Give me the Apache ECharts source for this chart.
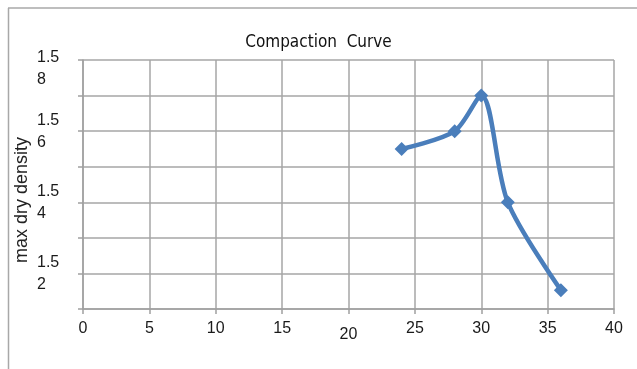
<!DOCTYPE html>
<html>
<head>
<meta charset="utf-8">
<script src="https://cdn.jsdelivr.net/npm/echarts@6/dist/echarts.min.js"></script>
<style>
  html, body { margin: 0; padding: 0; background: #fff; }
  #chart { width: 637px; height: 369px; }
</style>
</head>
<body>
<div id="chart"></div>
<script>
// Moisture content (%) against maximum dry density
const moisture = [24, 28, 30, 32, 36];
const dryDensity = [1.555, 1.56, 1.57, 1.54, 1.5153];

const xTicks = [0, 5, 10, 15, 20, 25, 30, 35, 40];
const yLabelled = [1.52, 1.54, 1.56, 1.58];

const chart = echarts.init(document.getElementById('chart'));

const labelFont = 'Liberation Sans, Arial, sans-serif';

chart.setOption({
  animation: false,
  backgroundColor: '#fff',
  title: {
    text: 'Compaction  Curve',
    left: 'center',
    top: 29,
    textStyle: {
      fontFamily: 'DejaVu Sans Condensed, DejaVu Sans, sans-serif',
      fontSize: 17,
      fontWeight: 'normal',
      color: '#111'
    }
  },
  graphic: [
    { type: 'line', shape: { x1: 8, y1: 8, x2: 637, y2: 8 }, style: { stroke: '#a8a8a8', lineWidth: 1.5 } },
    { type: 'line', shape: { x1: 8.5, y1: 8, x2: 8.5, y2: 369 }, style: { stroke: '#a8a8a8', lineWidth: 1.5 } }
  ],
  grid: { left: 83, right: 23, top: 60, bottom: 60, containLabel: false },
  xAxis: {
    type: 'value',
    min: 0,
    max: 40,
    interval: 5,
    axisLine: { show: true, lineStyle: { color: '#a0a0a0', width: 1.5 } },
    axisTick: { show: true, length: 5, lineStyle: { color: '#a0a0a0', width: 1.5 } },
    splitLine: { show: true, lineStyle: { color: '#a6a6a6', width: 1.5 } },
    axisLabel: {
      margin: 12,
      fontFamily: labelFont,
      fontSize: 16,
      color: '#1a1a1a',
      formatter: function (v) {
        const t = xTicks.find(function (k) { return Math.abs(k - v) < 1e-9; });
        if (t === undefined) return '';
        return t === 20 ? '{low|' + t + '}' : String(t);
      },
      rich: {
        low: { padding: [6, 0, 0, 0], fontFamily: labelFont, fontSize: 16, color: '#1a1a1a' }
      }
    }
  },
  yAxis: {
    type: 'value',
    name: 'max dry density',
    nameLocation: 'middle',
    nameGap: 52,
    nameMoveOverlap: false,
    nameTextStyle: { fontFamily: labelFont, fontSize: 18, color: '#222', padding: [0, 31, 0, 0] },
    min: 1.51,
    max: 1.58,
    interval: 0.01,
    axisLine: { show: true, lineStyle: { color: '#a0a0a0', width: 1.5 } },
    axisTick: { show: true, length: 5, lineStyle: { color: '#a0a0a0', width: 1.5 } },
    splitLine: { show: true, lineStyle: { color: '#a6a6a6', width: 1.5 } },
    axisLabel: {
      margin: 46,
      align: 'left',
      fontFamily: labelFont,
      fontSize: 16,
      lineHeight: 22,
      color: '#1a1a1a',
      formatter: function (v) {
        const hit = yLabelled.find(function (k) { return Math.abs(k - v) < 1e-6; });
        if (hit === undefined) return '';
        const s = hit.toFixed(2);
        const txt = s.slice(0, 3) + '\n' + s.slice(3);
        return Math.abs(hit - 1.58) < 1e-6 ? '{top|' + txt + '}' : txt;
      },
      rich: {
        top: { padding: [18, 0, 0, 0], fontFamily: labelFont, fontSize: 16, lineHeight: 22, color: '#1a1a1a', align: 'left' }
      }
    }
  },
  series: [{
    type: 'line',
    data: moisture.map(function (m, i) { return [m, dryDensity[i]]; }),
    smooth: 0.3,
    symbol: 'diamond',
    symbolSize: 14,
    lineStyle: { color: '#4a7ebb', width: 4.5 },
    itemStyle: { color: '#4a7ebb' }
  }]
});
</script>
</body>
</html>
